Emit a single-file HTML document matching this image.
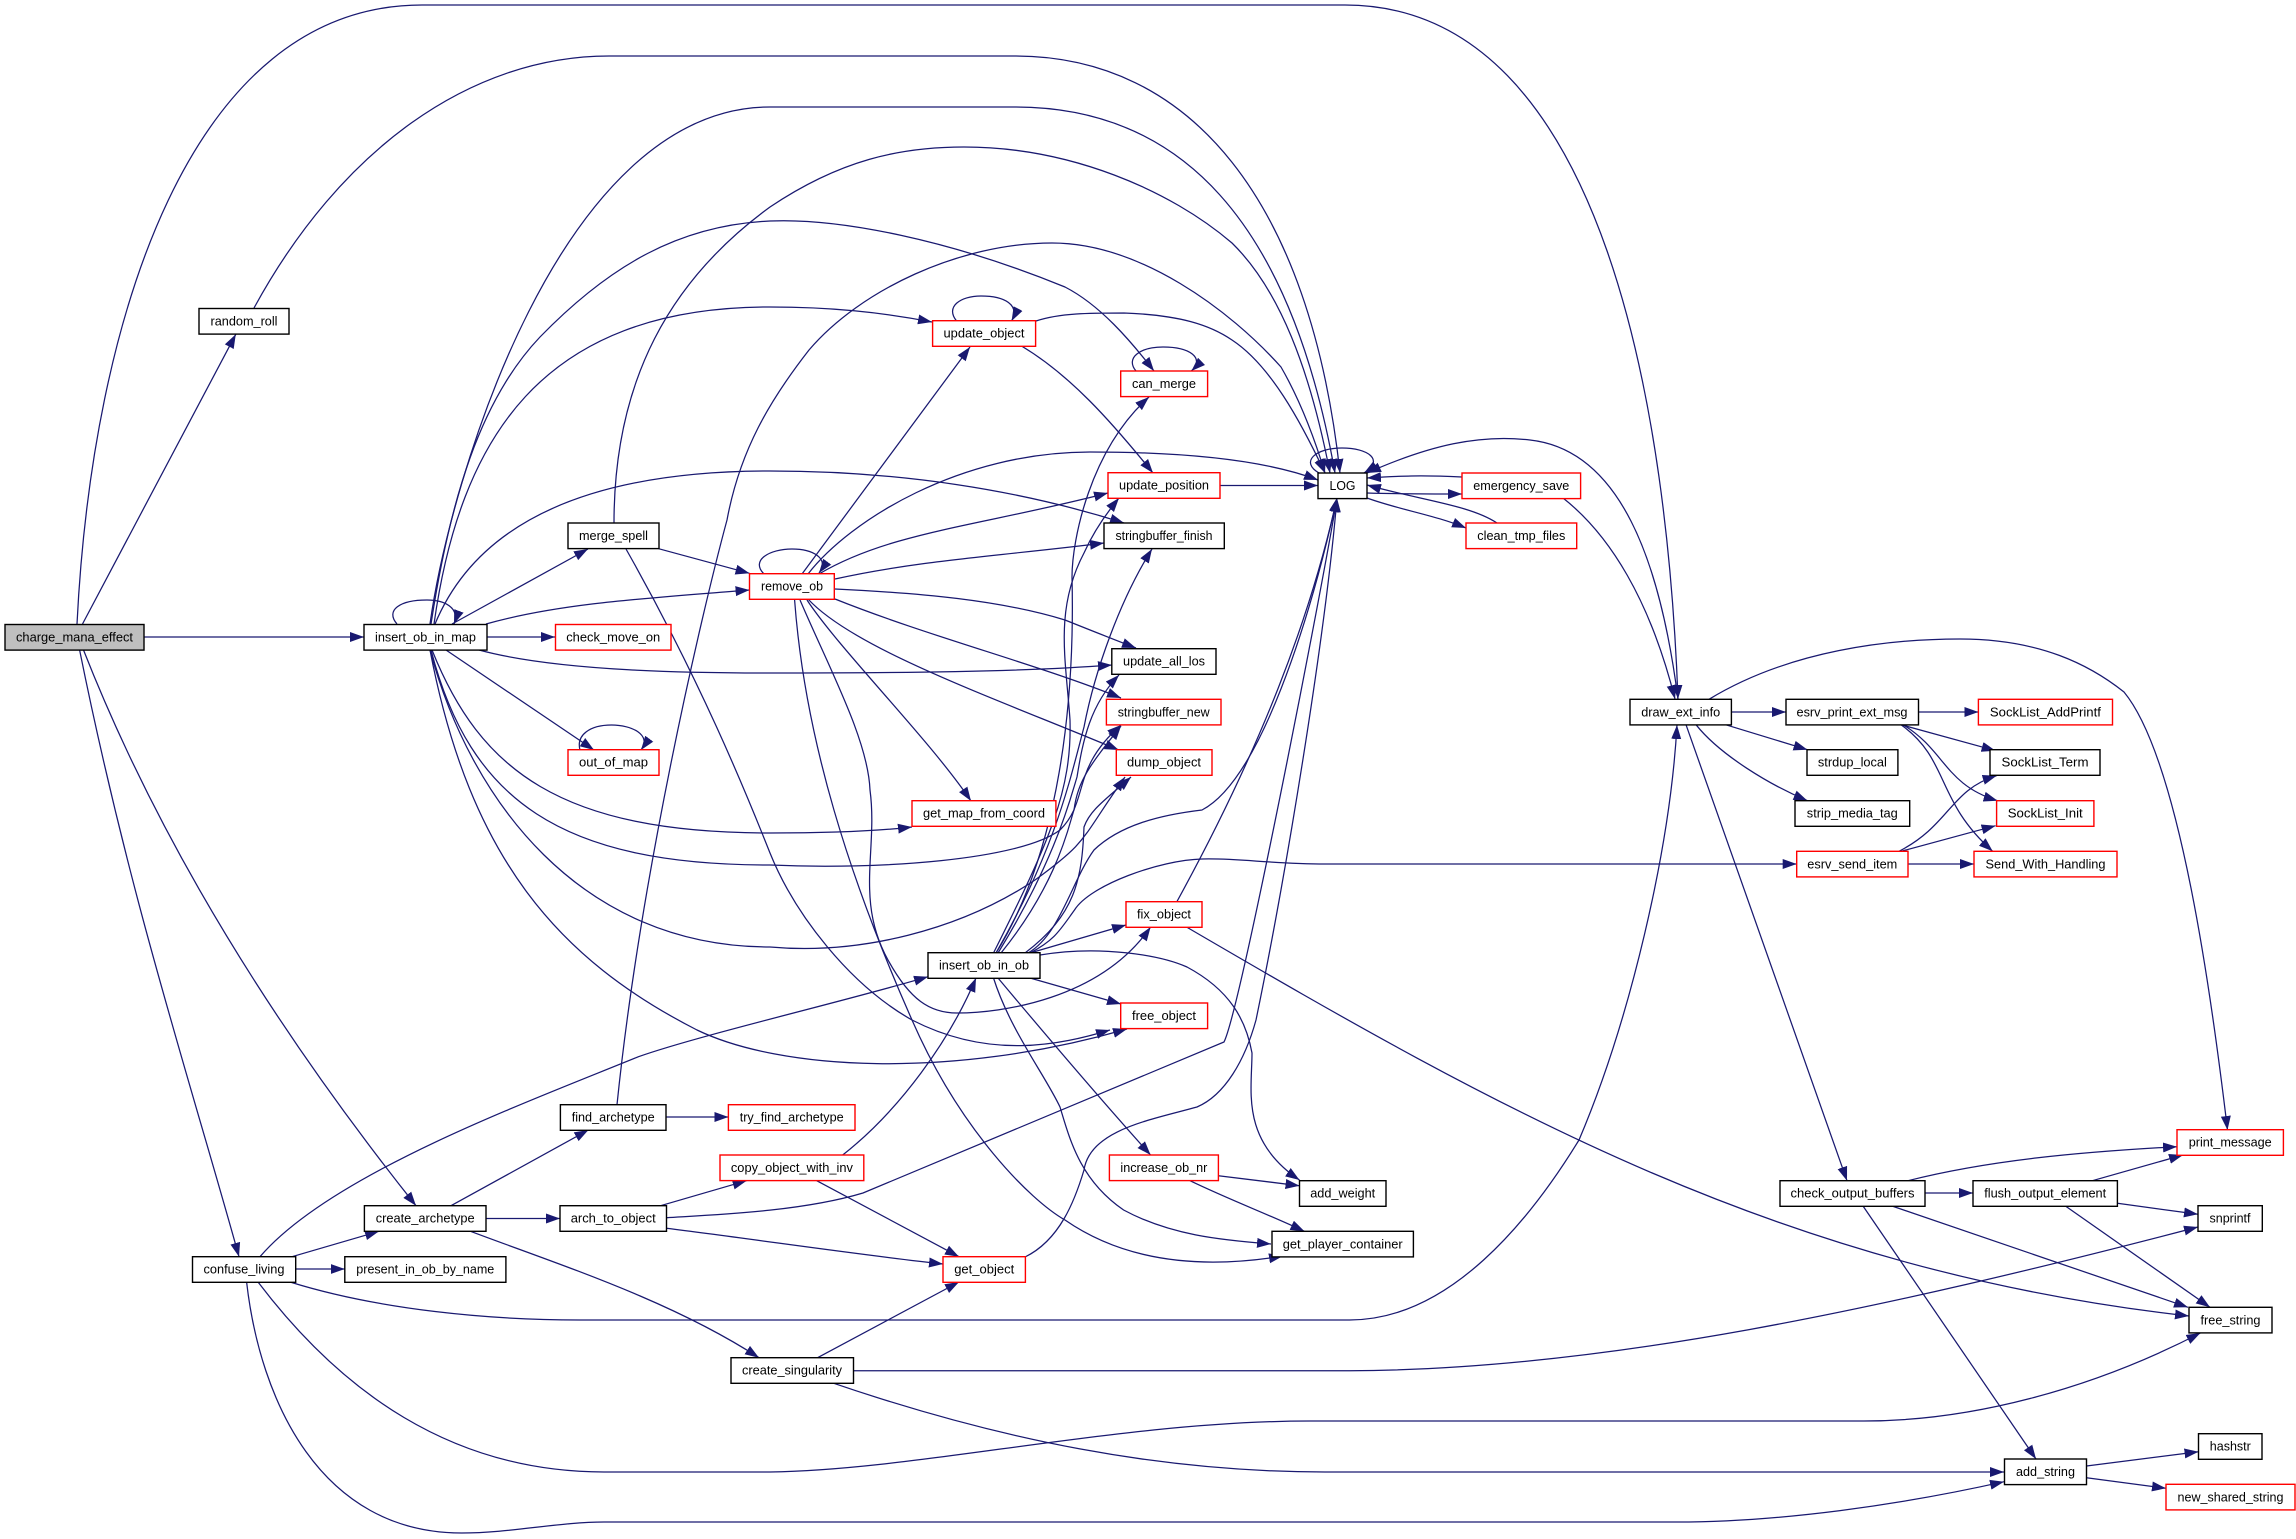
<!DOCTYPE html>
<html><head><meta charset="utf-8"><title>charge_mana_effect</title>
<style>
html,body{margin:0;padding:0;background:#fff}
svg{display:block}
text{font-family:"Liberation Sans",sans-serif;font-size:13.3px;fill:#000;text-anchor:middle}
.n rect{fill:#fff;stroke:#000;stroke-width:1.4}
.r rect{fill:#fff;stroke:#f00;stroke-width:1.4}
</style></head><body>
<svg xmlns="http://www.w3.org/2000/svg" width="2296" height="1539" viewBox="0 0 2296 1539">
<defs><marker id="a" markerUnits="userSpaceOnUse" markerWidth="16" markerHeight="12" refX="14" refY="5.5" orient="auto"><polygon points="0,0.5 14,5.5 0,10.5" fill="#191970"/></marker></defs>
<rect width="2296" height="1539" fill="#fff"/>
<g fill="none" stroke="#191970" stroke-width="1.25" marker-end="url(#a)">
<path d="M77 624C92 320 190 5 422 5L1345 5C1610 5 1668 430 1678 699"/>
<path d="M82.5 624L235.8 334.3"/>
<path d="M254 308C340 150 470 56 609 56L1015 56C1190 56 1310 200 1340 473"/>
<path d="M430 624C450 480 560 107 770 107L1015 107C1180 107 1290 220 1335 473"/>
<path d="M614 523C614 380 670 280 770 207C840 160 900 147 964 147C1070 147 1170 190 1232 243C1280 290 1310 370 1330 473"/>
<path d="M431 624C450 500 480 400 540 337C610 265 680 225 770 221C840 218 950 240 1065 287C1100 305 1130 340 1154 371"/>
<path d="M434 624C460 440 540 307 770 307C830 307 880 312 932 322"/>
<path d="M435 624C470 540 560 471 770 471C900 471 1020 490 1124 523"/>
<path d="M397 624C385 610 400 600 427 600C445 600 460 608 454 624"/>
<path d="M452 624L588 549"/>
<path d="M486 624C560 603 650 598 749.5 590"/>
<path d="M487 637L555 637"/>
<path d="M479 650C560 672 700 673 770 673C900 673 1020 672 1112 665"/>
<path d="M446 650L594 750"/>
<path d="M580 750C576 735 590 725 611.5 725C632 725 652 735 641 750"/>
<path d="M432 650C480 770 560 833 770 833C820 833 870 832 912 827"/>
<path d="M431 650C470 800 560 865 770 865C880 870 1020 860 1060 830C1090 800 1070 770 1121 725"/>
<path d="M430 650C470 800 580 947 770 947C860 955 960 930 1035 880C1090 840 1080 840 1125 777"/>
<path d="M430 650C470 860 560 960 697 1030C780 1070 950 1080 1127 1029"/>
<path d="M626 549C700 680 745 790 770 853C795 915 850 985 912 1020C990 1060 1060 1045 1110 1030"/>
<path d="M658.6 548.7L749.5 573.3"/>
<path d="M764 574C750 560 770 549 792 549C812 549 830 558 819 573"/>
<path d="M802 574L970 347"/>
<path d="M808 574C850 520 960 452 1090 452C1170 452 1260 458 1318 480"/>
<path d="M819 574C890 532 980 526 1108 493"/>
<path d="M835 579C920 560 1010 555 1104 543"/>
<path d="M835 589C920 593 1000 600 1065 620C1090 630 1115 640 1136 648"/>
<path d="M835 599C930 637 1040 665 1121 698"/>
<path d="M808 599C855 650 1000 700 1118.7 750"/>
<path d="M807 600C840 650 930 740 971 801"/>
<path d="M800 600C830 670 868 740 870 790C878 850 855 900 888 960C910 1000 930 1013 957 1013C1000 1013 1100 1000 1150.6 927"/>
<path d="M794.6 600C805 740 850 880 912 1020C960 1130 1030 1200 1065 1220C1130 1265 1210 1268 1283 1256"/>
<path d="M996 953C1060 850 1075 700 1072 577C1072 540 1090 450 1149 397"/>
<path d="M993.5 953C1050 840 1072 790 1070 720C1066 660 1054 610 1084 553C1092 535 1105 515 1119 498"/>
<path d="M996 953C1055 850 1070 780 1084 727C1095 670 1120 600 1152 549"/>
<path d="M998 953C1055 860 1070 800 1077 777C1083 740 1090 705 1119 675"/>
<path d="M1001 953C1060 880 1070 820 1074 810C1078 780 1090 765 1121 726"/>
<path d="M1025 953C1075 915 1082 880 1084 827C1090 810 1105 800 1131 777"/>
<path d="M1028 953C1060 935 1072 880 1094 850C1120 825 1160 815 1202 810C1260 780 1310 620 1337 498"/>
<path d="M1030 953C1055 940 1060 930 1074.5 910C1090 885 1160 860 1202 859C1240 858 1270 864 1325 864L1796.7 864"/>
<path d="M1030 953L1126 925"/>
<path d="M1040 955C1100 945 1160 955 1187 967C1230 990 1246 1020 1252 1053C1252 1090 1240 1140 1299.5 1180"/>
<path d="M1030 978L1121 1004"/>
<path d="M998 978C1050 1040 1110 1110 1150.6 1155"/>
<path d="M993.5 978C1010 1030 1045 1075 1060 1107C1070 1140 1080 1180 1123.6 1210C1170 1235 1220 1240 1271 1244"/>
<path d="M1176.7 902C1260 750 1310 620 1337 498"/>
<path d="M666.5 1217.7C710 1215 800 1212 863 1193L1224 1042C1240 1010 1320 600 1337 498"/>
<path d="M1025 1257C1060 1240 1075 1200 1084 1170C1090 1130 1150 1120 1197 1107C1225 1095 1245 1060 1256 1020C1285 880 1325 640 1337 498"/>
<path d="M1186.5 927C1500 1110 1780 1270 2189 1316"/>
<path d="M1220 485.5L1318 485.5"/>
<path d="M1036 321C1060 313 1090 313 1124 313C1180 315 1210 325 1232 340C1270 365 1300 420 1325 473"/>
<path d="M1021.5 346C1070 375 1110 420 1153 473"/>
<path d="M956.6 321C945 307 960 296 981 296C1005 296 1020 305 1011.6 321"/>
<path d="M1136 371C1125 358 1140 347 1163 347C1190 347 1205 358 1191.4 371"/>
<path d="M1319 473C1300 462 1315 448 1342 448C1368 448 1385 460 1364 473"/>
<path d="M1462 477C1420 475 1400 476 1367 478"/>
<path d="M1367 493C1400 494 1430 494 1462 494"/>
<path d="M1563 498C1610 535 1650 600 1675 699"/>
<path d="M1678 699C1660 560 1620 450 1530 440C1480 434 1430 445 1367 473"/>
<path d="M1497 523C1470 505 1420 500 1367 485"/>
<path d="M1367 498C1400 510 1435 515 1466 528"/>
<path d="M1731.4 712L1786 712"/>
<path d="M1725.5 724.7L1807.5 749.7"/>
<path d="M1696 724.7C1720 755 1770 785 1807.5 800.7"/>
<path d="M1686 724.7L1847 1180.7"/>
<path d="M1709 699.3C1790 650 1890 639 1960 639C2040 639 2090 665 2124 692C2180 760 2212 1000 2227.5 1130"/>
<path d="M290 1282C380 1310 490 1320 580 1320L1349.6 1320C1450 1320 1530 1220 1579 1140C1630 1020 1670 850 1677 725"/>
<path d="M1918.5 712L1978.4 712"/>
<path d="M1901 724.7L1995.6 750.7"/>
<path d="M1903 724.7C1945 750 1945 785 1997.6 800.7"/>
<path d="M1901 724.7C1950 760 1935 800 1992.7 851.3"/>
<path d="M1899 851.3C1950 825 1950 790 1996.6 775.7"/>
<path d="M1901 851.3L1995.6 825.7"/>
<path d="M1908 864L1974 864"/>
<path d="M617 1104.7C640 880 700 620 727 520C740 450 770 400 809 350C860 290 960 243 1052 243C1140 243 1230 310 1281 367C1300 400 1315 440 1325 473"/>
<path d="M666 1117L728.4 1117"/>
<path d="M451 1205.7L588.4 1130"/>
<path d="M486 1218.5L560 1218.5"/>
<path d="M470.5 1231.3C560 1265 670 1300 759 1357.7"/>
<path d="M660.6 1205.7L746.6 1180.7"/>
<path d="M666.5 1228.3C760 1240 860 1255 943 1264"/>
<path d="M842.7 1155C900 1110 950 1040 976 978"/>
<path d="M816.7 1180.7L959 1256.7"/>
<path d="M817.6 1357.7L959 1282"/>
<path d="M853.5 1370.7L1349.6 1370.7C1600 1370 1880 1310 2198 1227"/>
<path d="M833.8 1383.3C1000 1440 1160 1472 1325 1472L2004 1472"/>
<path d="M258 1282C340 1390 450 1472 604 1472L770 1472C920 1470 1120 1421 1310 1421L1864 1421C1970 1421 2090 1390 2200.4 1333"/>
<path d="M246.6 1282C260 1400 320 1533 461.7 1533C510 1533 560 1522 604 1522L1677 1522C1780 1522 1900 1505 2004 1481.7"/>
<path d="M292 1256.7L379 1231.3"/>
<path d="M295.7 1269L344.8 1269"/>
<path d="M260 1256.7C330 1175 520 1105 638.5 1056.7C700 1035 850 1000 928 976.7"/>
<path d="M83.5 650C170 870 300 1060 416 1205.7"/>
<path d="M79.6 650C130 900 190 1080 239 1256.7"/>
<path d="M144 637L364 637"/>
<path d="M1908 1180.7C1990 1160 2080 1152 2177 1146.7"/>
<path d="M1925 1193L1973 1193"/>
<path d="M1892 1206L2188 1307.3"/>
<path d="M1863 1206L2036 1459"/>
<path d="M2092.4 1180.7L2183 1155"/>
<path d="M2117.4 1203.3L2198 1214.3"/>
<path d="M2065.4 1206L2210 1307.3"/>
<path d="M1218.4 1175.7L1299.5 1185.7"/>
<path d="M1190 1180.7C1230 1200 1270 1215 1304.4 1231.3"/>
<path d="M2086.5 1466L2198.5 1451.7"/>
<path d="M2086.5 1477.7L2166 1488.3"/>
</g>
<g class="n">
<rect x="5" y="624.5" width="139" height="25.6" fill="#bfbfbf" style="fill:#bfbfbf"/><text x="74.5" y="641.5" textLength="117" lengthAdjust="spacingAndGlyphs">charge_mana_effect</text>
<rect x="199" y="308.5" width="90" height="25.6"/><text x="244" y="325.5" textLength="67" lengthAdjust="spacingAndGlyphs">random_roll</text>
<rect x="364" y="624.5" width="123" height="25.6"/><text x="425.5" y="641.5" textLength="101" lengthAdjust="spacingAndGlyphs">insert_ob_in_map</text>
<rect x="568" y="523" width="91" height="25.6"/><text x="613.5" y="540" textLength="69" lengthAdjust="spacingAndGlyphs">merge_spell</text>
<rect x="1104" y="523" width="120.3" height="25.6"/><text x="1164" y="540" textLength="97" lengthAdjust="spacingAndGlyphs">stringbuffer_finish</text>
<rect x="1111.8" y="648.7" width="104.2" height="25.6"/><text x="1164" y="665.7" textLength="82" lengthAdjust="spacingAndGlyphs">update_all_los</text>
<rect x="1318" y="473" width="49" height="25.6"/><text x="1342.5" y="490" textLength="26" lengthAdjust="spacingAndGlyphs">LOG</text>
<rect x="928" y="952.7" width="112" height="25.6"/><text x="984" y="969.7" textLength="90" lengthAdjust="spacingAndGlyphs">insert_ob_in_ob</text>
<rect x="1630" y="699.3" width="101.4" height="25.6"/><text x="1680.7" y="716.3" textLength="79" lengthAdjust="spacingAndGlyphs">draw_ext_info</text>
<rect x="1786" y="699.3" width="132.5" height="25.6"/><text x="1852" y="716.3" textLength="111" lengthAdjust="spacingAndGlyphs">esrv_print_ext_msg</text>
<rect x="1807" y="749.7" width="90.9" height="25.6"/><text x="1852.4" y="766.7" textLength="69" lengthAdjust="spacingAndGlyphs">strdup_local</text>
<rect x="1990" y="749.7" width="110" height="25.6"/><text x="2045" y="766.7" textLength="87" lengthAdjust="spacingAndGlyphs">SockList_Term</text>
<rect x="1795" y="800.7" width="114.7" height="25.6"/><text x="1852.3" y="817.7" textLength="91" lengthAdjust="spacingAndGlyphs">strip_media_tag</text>
<rect x="560.4" y="1104.7" width="105.6" height="25.6"/><text x="613.2" y="1121.7" textLength="83" lengthAdjust="spacingAndGlyphs">find_archetype</text>
<rect x="364.4" y="1205.7" width="121.6" height="25.6"/><text x="425.2" y="1222.7" textLength="99" lengthAdjust="spacingAndGlyphs">create_archetype</text>
<rect x="560" y="1205.7" width="106.5" height="25.6"/><text x="613.2" y="1222.7" textLength="85" lengthAdjust="spacingAndGlyphs">arch_to_object</text>
<rect x="192.5" y="1256.7" width="103.2" height="25.6"/><text x="244" y="1273.7" textLength="81" lengthAdjust="spacingAndGlyphs">confuse_living</text>
<rect x="344.8" y="1256.7" width="161.1" height="25.6"/><text x="425.3" y="1273.7" textLength="138" lengthAdjust="spacingAndGlyphs">present_in_ob_by_name</text>
<rect x="731" y="1357.7" width="122.5" height="25.6"/><text x="792" y="1374.7" textLength="100" lengthAdjust="spacingAndGlyphs">create_singularity</text>
<rect x="1299.5" y="1180.7" width="86.5" height="25.6"/><text x="1342.7" y="1197.7" textLength="65" lengthAdjust="spacingAndGlyphs">add_weight</text>
<rect x="1272" y="1231.3" width="141.4" height="25.6"/><text x="1342.7" y="1248.3" textLength="120" lengthAdjust="spacingAndGlyphs">get_player_container</text>
<rect x="1780" y="1180.7" width="145" height="25.6"/><text x="1852.5" y="1197.7" textLength="124" lengthAdjust="spacingAndGlyphs">check_output_buffers</text>
<rect x="1973" y="1180.7" width="144.4" height="25.6"/><text x="2045.2" y="1197.7" textLength="122" lengthAdjust="spacingAndGlyphs">flush_output_element</text>
<rect x="2198" y="1205.7" width="64.3" height="25.6"/><text x="2230" y="1222.7" textLength="41" lengthAdjust="spacingAndGlyphs">snprintf</text>
<rect x="2189" y="1307.3" width="83" height="25.6"/><text x="2230.5" y="1324.3" textLength="60" lengthAdjust="spacingAndGlyphs">free_string</text>
<rect x="2198.5" y="1433.7" width="63.5" height="25.6"/><text x="2230.3" y="1450.7" textLength="41" lengthAdjust="spacingAndGlyphs">hashstr</text>
<rect x="2004.5" y="1459" width="82" height="25.6"/><text x="2045.5" y="1476" textLength="59" lengthAdjust="spacingAndGlyphs">add_string</text>
</g>
<g class="r">
<rect x="932.6" y="320.7" width="103" height="25.6"/><text x="984" y="337.7" textLength="81" lengthAdjust="spacingAndGlyphs">update_object</text>
<rect x="1120.7" y="371" width="86.9" height="25.6"/><text x="1164" y="388" textLength="64" lengthAdjust="spacingAndGlyphs">can_merge</text>
<rect x="1108" y="472.7" width="112" height="25.6"/><text x="1164" y="489.7" textLength="90" lengthAdjust="spacingAndGlyphs">update_position</text>
<rect x="1462" y="473" width="118.6" height="25.6"/><text x="1521.3" y="490" textLength="96" lengthAdjust="spacingAndGlyphs">emergency_save</text>
<rect x="1466" y="523" width="110.7" height="25.6"/><text x="1521.3" y="540" textLength="88" lengthAdjust="spacingAndGlyphs">clean_tmp_files</text>
<rect x="749.5" y="573.7" width="84.8" height="25.6"/><text x="792" y="590.7" textLength="62" lengthAdjust="spacingAndGlyphs">remove_ob</text>
<rect x="555.5" y="624.5" width="115.5" height="25.6"/><text x="613.2" y="641.5" textLength="94" lengthAdjust="spacingAndGlyphs">check_move_on</text>
<rect x="568" y="749.7" width="91" height="25.6"/><text x="613.5" y="766.7" textLength="69" lengthAdjust="spacingAndGlyphs">out_of_map</text>
<rect x="1106.4" y="699.3" width="114.6" height="25.6"/><text x="1163.7" y="716.3" textLength="92" lengthAdjust="spacingAndGlyphs">stringbuffer_new</text>
<rect x="1116.3" y="749.7" width="95.7" height="25.6"/><text x="1164" y="766.7" textLength="74" lengthAdjust="spacingAndGlyphs">dump_object</text>
<rect x="912" y="800.7" width="143.9" height="25.6"/><text x="984" y="817.7" textLength="122" lengthAdjust="spacingAndGlyphs">get_map_from_coord</text>
<rect x="1126" y="901.7" width="76" height="25.6"/><text x="1164" y="918.7" textLength="54" lengthAdjust="spacingAndGlyphs">fix_object</text>
<rect x="1120.7" y="1003" width="86.9" height="25.6"/><text x="1164" y="1020" textLength="64" lengthAdjust="spacingAndGlyphs">free_object</text>
<rect x="1978.4" y="699.3" width="134.1" height="25.6"/><text x="2045.4" y="716.3" textLength="111" lengthAdjust="spacingAndGlyphs">SockList_AddPrintf</text>
<rect x="1996.6" y="800.7" width="97.3" height="25.6"/><text x="2045.2" y="817.7" textLength="75" lengthAdjust="spacingAndGlyphs">SockList_Init</text>
<rect x="1796.7" y="851.3" width="111.3" height="25.6"/><text x="1852.3" y="868.3" textLength="90" lengthAdjust="spacingAndGlyphs">esrv_send_item</text>
<rect x="1974" y="851.3" width="143" height="25.6"/><text x="2045.5" y="868.3" textLength="120" lengthAdjust="spacingAndGlyphs">Send_With_Handling</text>
<rect x="728.4" y="1104.7" width="126.6" height="25.6"/><text x="791.7" y="1121.7" textLength="104" lengthAdjust="spacingAndGlyphs">try_find_archetype</text>
<rect x="720" y="1155" width="143.8" height="25.6"/><text x="791.9" y="1172" textLength="122" lengthAdjust="spacingAndGlyphs">copy_object_with_inv</text>
<rect x="1109.4" y="1155" width="109" height="25.6"/><text x="1163.9" y="1172" textLength="87" lengthAdjust="spacingAndGlyphs">increase_ob_nr</text>
<rect x="943" y="1256.7" width="82.4" height="25.6"/><text x="984.2" y="1273.7" textLength="60" lengthAdjust="spacingAndGlyphs">get_object</text>
<rect x="2177" y="1129.7" width="106.4" height="25.6"/><text x="2230.2" y="1146.7" textLength="83" lengthAdjust="spacingAndGlyphs">print_message</text>
<rect x="2166" y="1484.3" width="129" height="25.6"/><text x="2230.5" y="1501.3" textLength="106" lengthAdjust="spacingAndGlyphs">new_shared_string</text>
</g>
</svg>
</body></html>
